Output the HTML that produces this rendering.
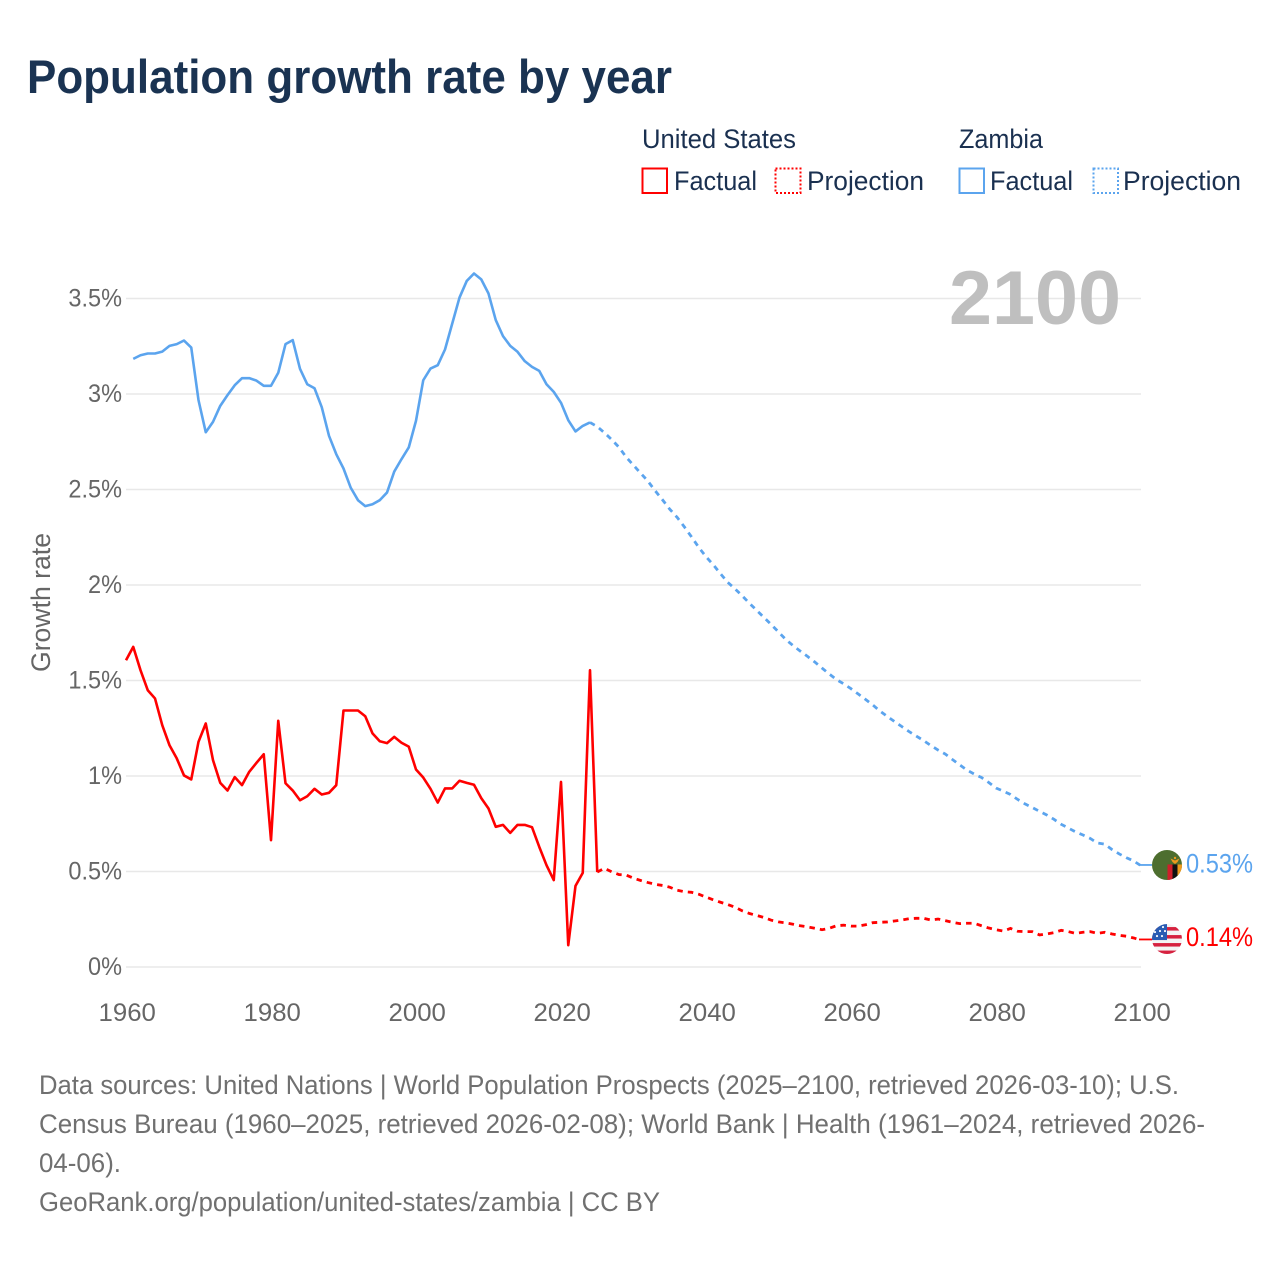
<!DOCTYPE html>
<html lang="en">
<head>
<meta charset="utf-8">
<title>Population growth rate by year</title>
<style>
html,body{margin:0;padding:0;background:#fff;width:1280px;height:1280px;overflow:hidden}
svg{display:block}
text{font-family:"Liberation Sans",sans-serif}
.legend{font-size:27px;fill:#1a3050}
.foot{font-size:26.5px;fill:#707070}
.tick{font-size:25px;fill:#666}
</style>
</head>
<body>
<svg id="chart" xmlns="http://www.w3.org/2000/svg" width="1280" height="1280" viewBox="0 0 1280 1280">
  <defs>
    <clipPath id="flag-clip"><circle cx="0" cy="0" r="15"/></clipPath>
  </defs>
  <rect width="1280" height="1280" fill="#fff"/>
  <text x="27" y="93" font-size="47" font-weight="700" fill="#1a3352" textLength="645" lengthAdjust="spacingAndGlyphs">Population growth rate by year</text>

  <g>
    <text class="legend" x="642" y="148" textLength="154" lengthAdjust="spacingAndGlyphs">United States</text>
    <text class="legend" x="959" y="148" textLength="84" lengthAdjust="spacingAndGlyphs">Zambia</text>
    <rect x="642.5" y="168.5" width="24.5" height="24.5" fill="none" stroke="#ff0000" stroke-width="2"/>
    <text class="legend" x="674" y="190" textLength="83" lengthAdjust="spacingAndGlyphs">Factual</text>
    <rect x="775.5" y="168.5" width="25" height="24.5" fill="none" stroke="#ff0000" stroke-width="2" stroke-dasharray="2 2"/>
    <text class="legend" x="807" y="190" textLength="117" lengthAdjust="spacingAndGlyphs">Projection</text>
    <rect x="959.5" y="168.5" width="24.5" height="24.5" fill="none" stroke="#5ba4ee" stroke-width="2"/>
    <text class="legend" x="990" y="190" textLength="83" lengthAdjust="spacingAndGlyphs">Factual</text>
    <rect x="1093.5" y="168.5" width="24.5" height="24.5" fill="none" stroke="#5ba4ee" stroke-width="2" stroke-dasharray="2 2"/>
    <text class="legend" x="1123" y="190" textLength="118" lengthAdjust="spacingAndGlyphs">Projection</text>
  </g>

  <text transform="translate(50,602.5) rotate(-90)" text-anchor="middle" font-size="27" fill="#666" textLength="139" lengthAdjust="spacingAndGlyphs">Growth rate</text>

  <g id="grid"></g>
  <g id="y-ticks"></g>
  <g id="x-ticks"></g>

  <text id="year-label" x="949" y="324" font-size="76" font-weight="700" fill="#bfbfbf" textLength="172" lengthAdjust="spacingAndGlyphs"></text>

  <g id="series"></g>

  <g id="flag-zambia">
    <g clip-path="url(#flag-clip)">
      <rect x="-15" y="-15" width="30" height="30" fill="#4d6e2f"/>
      <rect x="0.5" y="-0.5" width="5" height="16" fill="#d01f2b"/>
      <rect x="5.5" y="-0.5" width="5" height="16" fill="#111"/>
      <rect x="10.5" y="-0.5" width="5" height="16" fill="#ef9a1e"/>
      <path d="M3.5 -6.5 L8 -4.5 L12.5 -6.5 L10.5 -3 L8 -1 L5.5 -3 Z" fill="#ef9a1e"/>
      <circle cx="8" cy="-7" r="1.2" fill="#ef9a1e"/>
    </g>
  </g>
  <g id="flag-us">
    <g clip-path="url(#flag-clip)">
      <rect x="-15" y="-15" width="30" height="30" fill="#f4f4f4"/>
      <rect x="-15" y="-12" width="30" height="3.5" fill="#d6213f"/>
      <rect x="-15" y="-4" width="30" height="3.5" fill="#d6213f"/>
      <rect x="-15" y="4" width="30" height="3.5" fill="#d6213f"/>
      <rect x="-15" y="11.5" width="30" height="4" fill="#d6213f"/>
      <rect x="-15" y="-15" width="15" height="16" fill="#2a5cb3"/>
      <circle cx="-10" cy="-3" r="1.1" fill="#fff"/><circle cx="-5" cy="-3" r="1.1" fill="#fff"/><circle cx="-2" cy="-8" r="1.1" fill="#fff"/>
      <circle cx="-7" cy="-8" r="1.1" fill="#fff"/><circle cx="-4" cy="-12" r="1.1" fill="#fff"/><circle cx="-12" cy="-7" r="1.1" fill="#fff"/>
    </g>
  </g>
  <text id="end-label-zambia" class="end" x="1186" font-size="26.5" fill="#5ba4ee"></text>
  <text id="end-label-us" class="end" x="1186" font-size="26.5" fill="#ff0000"></text>

  <g>
    <text class="foot" x="39" y="1094" textLength="1140" lengthAdjust="spacingAndGlyphs">Data sources: United Nations | World Population Prospects (2025–2100, retrieved 2026-03-10); U.S.</text>
    <text class="foot" x="39" y="1133" textLength="1166" lengthAdjust="spacingAndGlyphs">Census Bureau (1960–2025, retrieved 2026-02-08); World Bank | Health (1961–2024, retrieved 2026-</text>
    <text class="foot" x="39" y="1172" textLength="82" lengthAdjust="spacingAndGlyphs">04-06).</text>
    <text class="foot" x="39" y="1211" textLength="621" lengthAdjust="spacingAndGlyphs">GeoRank.org/population/united-states/zambia | CC BY</text>
  </g>
</svg>
<script>
const xTickYears = [1960, 1980, 2000, 2020, 2040, 2060, 2080, 2100];
const yTickValues = [0, 0.5, 1, 1.5, 2, 2.5, 3, 3.5];
const yTickLabels = ['0%', '0.5%', '1%', '1.5%', '2%', '2.5%', '3%', '3.5%'];
const usFactualStart = 1960;
const usFactual = [1.606,1.676,1.554,1.449,1.406,1.266,1.161,1.092,1.003,0.982,1.179,1.275,1.083,0.964,0.924,0.994,0.952,1.022,1.069,1.114,0.664,1.289,0.962,0.924,0.873,0.894,0.933,0.903,0.912,0.952,1.343,1.343,1.343,1.313,1.223,1.182,1.172,1.205,1.174,1.154,1.034,0.992,0.933,0.861,0.935,0.935,0.975,0.964,0.954,0.884,0.83,0.734,0.744,0.702,0.744,0.744,0.732,0.629,0.533,0.455,0.969,0.114,0.425,0.493,1.554,0.497];
const usProjectionStart = 2025;
const usProjection = [0.497,0.517,0.498,0.484,0.481,0.465,0.453,0.442,0.433,0.427,0.418,0.402,0.394,0.391,0.381,0.366,0.352,0.339,0.327,0.313,0.294,0.28,0.27,0.259,0.245,0.236,0.231,0.224,0.216,0.21,0.203,0.195,0.203,0.216,0.219,0.214,0.214,0.221,0.232,0.234,0.236,0.241,0.246,0.253,0.255,0.255,0.246,0.251,0.243,0.234,0.227,0.229,0.229,0.216,0.204,0.195,0.188,0.202,0.187,0.185,0.185,0.168,0.173,0.18,0.192,0.185,0.176,0.182,0.185,0.176,0.182,0.173,0.166,0.161,0.152,0.14];
const zambiaFactualStart = 1961;
const zambiaFactual = [3.184,3.203,3.212,3.212,3.222,3.252,3.261,3.28,3.243,2.968,2.80,2.854,2.938,2.994,3.046,3.083,3.083,3.07,3.043,3.043,3.111,3.261,3.282,3.132,3.051,3.03,2.931,2.781,2.685,2.61,2.509,2.444,2.413,2.423,2.444,2.484,2.594,2.659,2.72,2.86,3.072,3.133,3.151,3.233,3.369,3.505,3.592,3.631,3.6,3.526,3.387,3.303,3.252,3.221,3.172,3.142,3.121,3.051,3.011,2.954,2.863,2.804,2.833,2.851];
const zambiaProjectionStart = 2024;
const zambiaProjection = [2.851,2.829,2.797,2.761,2.721,2.669,2.627,2.585,2.543,2.493,2.446,2.397,2.355,2.305,2.252,2.197,2.148,2.106,2.059,2.014,1.98,1.943,1.904,1.867,1.83,1.793,1.754,1.715,1.683,1.654,1.626,1.597,1.565,1.534,1.505,1.482,1.457,1.429,1.401,1.372,1.34,1.312,1.285,1.259,1.233,1.209,1.186,1.16,1.136,1.115,1.086,1.058,1.031,1.01,0.992,0.966,0.937,0.921,0.903,0.877,0.854,0.835,0.815,0.796,0.773,0.747,0.727,0.707,0.691,0.673,0.649,0.643,0.615,0.592,0.572,0.555,0.53];
const currentYear = 2100;

const SVG_NS = 'http://www.w3.org/2000/svg';
const plotLeft = 126, plotRight = 1141, plotZero = 967, pxPerUnit = 191;
function xScale(year) { return plotLeft + (year - 1960) * (plotRight - plotLeft) / 140; }
function yScale(value) { return plotZero - value * pxPerUnit; }
function make(tag, parent, attrs) {
  const el = document.createElementNS(SVG_NS, tag);
  for (const k in attrs) el.setAttribute(k, attrs[k]);
  parent.appendChild(el);
  return el;
}
function pathFrom(values, startYear) {
  return values.map(function (v, i) {
    return (i ? 'L' : 'M') + xScale(startYear + i).toFixed(2) + ' ' + yScale(v).toFixed(2);
  }).join(' ');
}
function condense(el, factor) {
  const w = el.getComputedTextLength();
  el.setAttribute('textLength', (w * factor).toFixed(1));
  el.setAttribute('lengthAdjust', 'spacingAndGlyphs');
}

const grid = document.getElementById('grid');
const yTicks = document.getElementById('y-ticks');
yTickValues.forEach(function (v, i) {
  const line = make('line', grid, { x1: plotLeft, x2: plotRight, y1: yScale(v), y2: yScale(v), stroke: '#e8e8e8', 'stroke-width': 1.5 });
  
  
  const t = make('text', yTicks, { class: 'tick', x: 122, y: yScale(v) + 8, 'text-anchor': 'end' });
  
  
  t.textContent = yTickLabels[i];
  condense(t, 0.94);
});

const xTicks = document.getElementById('x-ticks');
xTickYears.forEach(function (year) {
  const t = make('text', xTicks, { class: 'tick', x: xScale(year) + 1.2, y: 1021, 'text-anchor': 'middle' });
  
  
  t.textContent = year;
  condense(t, 1.03);
});

document.getElementById('year-label').textContent = currentYear;

const series = document.getElementById('series');
const blue = '#5ba4ee', red = '#ff0000';
const zf = make('path', series, { d: pathFrom(zambiaFactual, zambiaFactualStart), fill: 'none', stroke: blue, 'stroke-width': 2.6, 'stroke-linejoin': 'round' });


const zp = make('path', series, { d: pathFrom(zambiaProjection, zambiaProjectionStart), fill: 'none', stroke: blue, 'stroke-width': 2.8, 'stroke-dasharray': '5.5 5.1' });


const uf = make('path', series, { d: pathFrom(usFactual, usFactualStart), fill: 'none', stroke: red, 'stroke-width': 2.6, 'stroke-linejoin': 'round' });


const up = make('path', series, { d: pathFrom(usProjection, usProjectionStart), fill: 'none', stroke: red, 'stroke-width': 2.8, 'stroke-dasharray': '5.5 5.1' });



const zLast = zambiaProjection[zambiaProjection.length - 1];
const uLast = usProjection[usProjection.length - 1];
const zTail = make('line', series, { x1: xScale(currentYear) - 2, x2: 1152, y1: yScale(zLast) - 0.8, y2: yScale(zLast) - 0.8, stroke: blue, 'stroke-width': 1.8 });


const uTail = make('line', series, { x1: xScale(currentYear) - 2, x2: 1152, y1: yScale(uLast) - 0.8, y2: yScale(uLast) - 0.8, stroke: red, 'stroke-width': 1.8 });



document.getElementById('flag-zambia').setAttribute('transform', 'translate(1167,' + (yScale(zLast) - 0.8) + ')');
document.getElementById('flag-us').setAttribute('transform', 'translate(1167,' + (yScale(uLast) - 1.2) + ')');
const zLabel = document.getElementById('end-label-zambia');
zLabel.setAttribute('y', yScale(zLast) + 6.5);
zLabel.textContent = zLast.toFixed(2) + '%';
zLabel.setAttribute('textLength', '67');
zLabel.setAttribute('lengthAdjust', 'spacingAndGlyphs');
const uLabel = document.getElementById('end-label-us');
uLabel.setAttribute('y', yScale(uLast) + 5.5);
uLabel.textContent = uLast.toFixed(2) + '%';
uLabel.setAttribute('textLength', '67');
uLabel.setAttribute('lengthAdjust', 'spacingAndGlyphs');
</script>
</body>
</html>
